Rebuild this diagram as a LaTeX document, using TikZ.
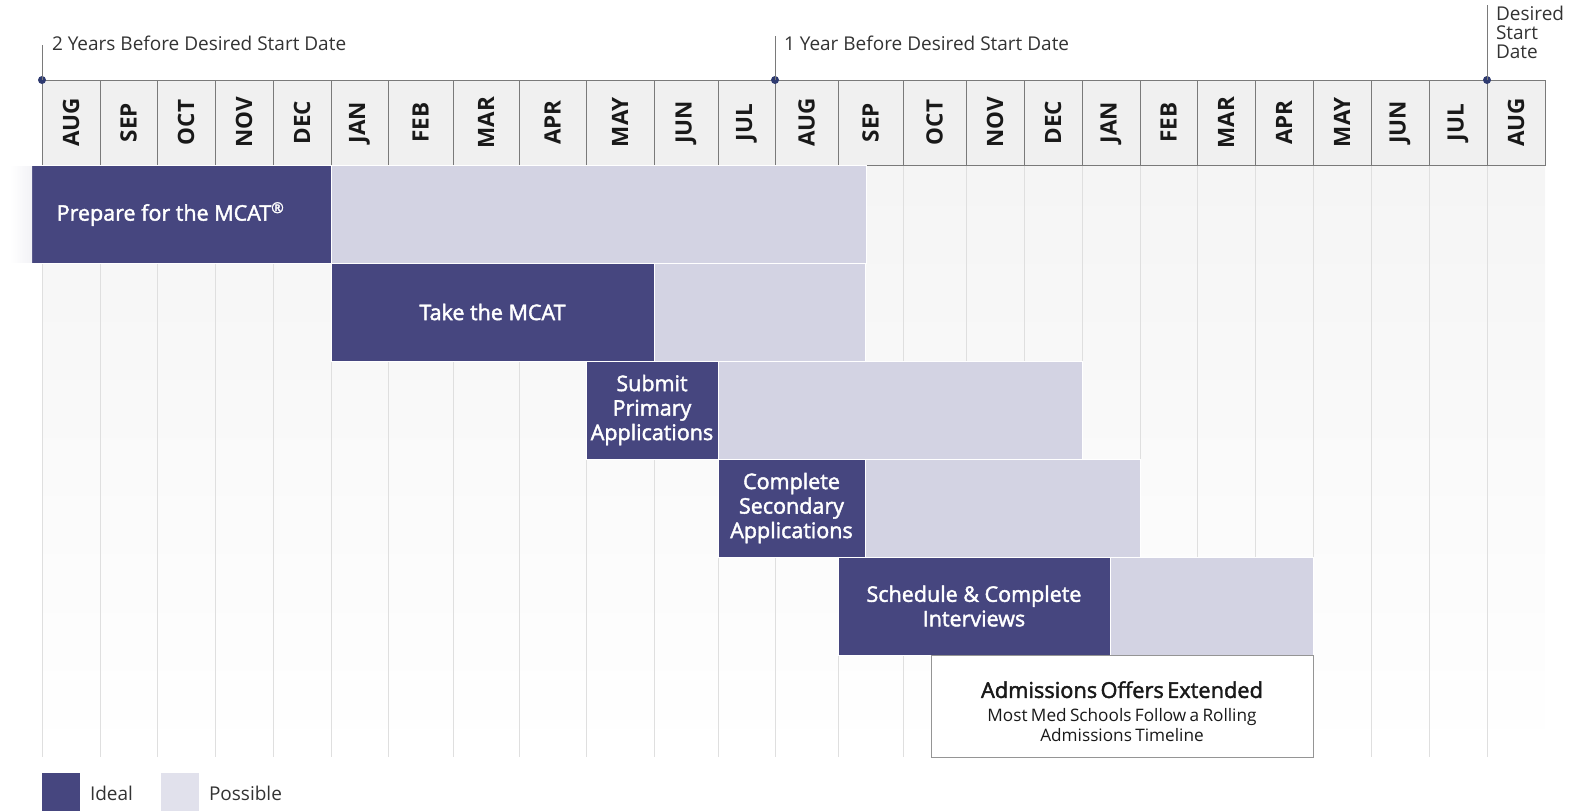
\documentclass[tikz,border=0pt]{standalone}
\usepackage{fontspec}
\setmainfont{Open Sans}
\newfontfamily\barfont{Open Sans}[FakeBold=2]
\usetikzlibrary{positioning, calc}
\definecolor{ideal}{HTML}{46467F}
\definecolor{possible}{HTML}{D3D3E3}
\definecolor{possiblekey}{HTML}{E1E1EC}
\definecolor{headfill}{HTML}{F0F0F0}
\definecolor{gridline}{HTML}{DFDFDF}
\definecolor{tick}{HTML}{7A7A7A}
\definecolor{dotc}{HTML}{2E3A70}
\tikzset{
    base/.style={inner sep=0pt, outer sep=0pt},
    monthcell/.style={base, draw=tick, fill=headfill, rotate=90, minimum width=85pt, text=black!90, font=\fontsize{22.5}{24}\selectfont\bfseries},
    idealbar/.style={base, fill=ideal, draw=white, line width=0.6pt, text=white, align=center, minimum height=98pt, font=\barfont\fontsize{21.5}{24.5}\selectfont},
    possiblebar/.style={base, fill=possible, draw=white, line width=0.6pt, minimum height=98pt},
    offerbox/.style={base, fill=white, draw=tick!80, line width=1pt, align=center, minimum height=102pt, text=black!90},
    marker/.style={circle, fill=dotc, inner sep=0pt, minimum size=8pt},
    tickline/.style={draw=tick, line width=0.9pt},
    note/.style={base, anchor=west, text=black!80, align=left, font=\fontsize{19}{19}\selectfont},
    keybox/.style={base, minimum size=38pt, anchor=north west}
}

\begin{document}
\begin{tikzpicture}[x=1pt, y=-1pt]
    \useasboundingbox (0,0) rectangle (1576,811);

    % columns below the header
    \shade [top color=gray!8, bottom color=white] (42,165) rectangle (1545,757);
    \foreach \m/\xl/\xr [count=\i] in {AUG/42/100, SEP/100/157, OCT/157/215, NOV/215/273, DEC/273/331,
        JAN/331/388, FEB/388/453, MAR/453/519, APR/519/586, MAY/586/654, JUN/654/718, JUL/718/775,
        AUG/775/838, SEP/838/903, OCT/903/966, NOV/966/1024, DEC/1024/1082, JAN/1082/1140,
        FEB/1140/1197, MAR/1197/1255, APR/1255/1313, MAY/1313/1371, JUN/1371/1429, JUL/1429/1487,
        AUG/1487/1545} {
        \pgfmathsetmacro\w{\xr-\xl}
        \draw [gridline, line width=1pt] (\xl,165) -- (\xl,757);
        \node [monthcell, minimum height=\w pt] (m\i) at ({(\xl+\xr)/2},122.5) {\m};
    }

    % milestones
    \node [marker] (two) at (m1.north east) {};
    \node [marker] (one) at (m13.north east) {};
    \node [marker] (goal) at (m25.north east) {};
    \coordinate (twotop) at (42,45);
    \coordinate (onetop) at (775,36);
    \coordinate (goaltop) at (1487,5);
    \draw [tickline] (two.center) -- (twotop);
    \draw [tickline] (one.center) -- (onetop);
    \draw [tickline] (goal.center) -- (goaltop);
    \node [note] (twolbl) at (52,43) {2 Years Before Desired Start Date};
    \node [note] (onelbl) at (784,43) {1 Year Before Desired Start Date};
    \node [note, anchor=north west] (goallbl) at (1496,6) {Desired\\Start\\Date};

    % steps
    \node [idealbar, anchor=north west, minimum width=321pt,
        path picture={\shade [left color=white, right color=ideal] (path picture bounding box.north west) rectangle ++(22,99);}]
        (prep) at (10,165) {Prepare for the MCAT\textsuperscript{®}};
    \node [possiblebar, minimum width=535pt, right=0pt of prep.north east, anchor=north west] (prepP) {};

    \node [idealbar, anchor=north west, minimum width=323pt] (take) at (331,263) {Take the MCAT};
    \node [possiblebar, minimum width=211pt, right=0pt of take.north east, anchor=north west] (takeP) {};

    \node [idealbar, anchor=north west, minimum width=132pt] (prim) at (586,361) {Submit\\Primary\\Applications};
    \node [possiblebar, minimum width=364pt, right=0pt of prim.north east, anchor=north west] (primP) {};

    \node [idealbar, anchor=north west, minimum width=147pt] (sec) at (718,459) {Complete\\Secondary\\Applications};
    \node [possiblebar, minimum width=275pt, right=0pt of sec.north east, anchor=north west] (secP) {};

    \node [idealbar, anchor=north west, minimum width=272pt] (intv) at (838,557) {Schedule \& Complete\\Interviews};
    \node [possiblebar, minimum width=203pt, right=0pt of intv.north east, anchor=north west] (intvP) {};

    \node [offerbox, anchor=north west, minimum width=382pt, text width=382pt] (offer) at (931,655)
        {{\barfont\fontsize{21.8}{25}\selectfont\rule{0pt}{28pt}Admissions Offers Extended\par}\vspace{4pt}
         {\fontsize{17.2}{20}\selectfont Most Med Schools Follow a Rolling\\Admissions Timeline\par}};

    % legend
    \node [keybox, fill=ideal] (keyI) at (42,773) {};
    \node [note, right=10pt of keyI.east, anchor=west, yshift=-1pt] (keyIlbl) {Ideal};
    \node [keybox, fill=possiblekey] (keyP) at (161,773) {};
    \node [note, right=10pt of keyP.east, anchor=west, yshift=-1pt] (keyPlbl) {Possible};
\end{tikzpicture}
\end{document}
